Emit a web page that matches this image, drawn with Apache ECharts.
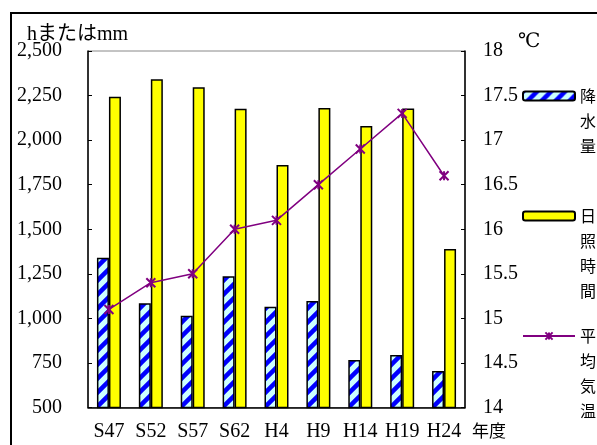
<!DOCTYPE html>
<html><head><meta charset="utf-8">
<script src="https://cdn.jsdelivr.net/npm/echarts@6/dist/echarts.min.js"></script>
<style>html,body{margin:0;padding:0;background:#fff}#c{width:597px;height:445px}</style>
</head><body><div id="c"></div>
<script>
const categories = ['S47','S52','S57','S62','H4','H9','H14','H19','H24'];
const precipitation = [1340, 1085, 1015, 1237, 1065, 1098, 766, 795, 705];
const sunshine = [2243, 2341, 2296, 2176, 1860, 2180, 2079, 2178, 1389];
const temperature = [15.1, 15.4, 15.5, 16.0, 16.1, 16.5, 16.9, 17.3, 16.6];
const seriesNames = ['降水量', '日照時間', '平均気温'];

const cv = document.createElement('canvas'); cv.width = 14; cv.height = 14;
const g = cv.getContext('2d');
g.fillStyle = '#ccffff'; g.fillRect(0, 0, 14, 14);
g.strokeStyle = '#0000ff'; g.lineWidth = 4.5;
g.beginPath();
g.moveTo(-7, 7); g.lineTo(7, -7);
g.moveTo(-1, 15); g.lineTo(15, -1);
g.moveTo(7, 21); g.lineTo(21, 7);
g.stroke();
const stripe = { image: cv, repeat: 'repeat' };

const serif = "'Liberation Serif', 'Noto Sans CJK JP', serif";
const cjk = "'Noto Sans CJK JP', sans-serif";
const fmt = v => String(v).replace(/\B(?=(\d{3})+(?!\d))/g, ',');

function legendFor(i, centerY) {
  const chars = seriesNames[i].split('');
  const n = chars.length;
  const lh = 25;
  const lines = [];
  for (let k = 0; k < n - 1; k++) lines.push('\u3000');
  const text = lines.concat(chars).join('\n');
  return {
    orient: 'vertical', left: 522, top: centerY - (2 * n - 1) * lh / 2,
    itemWidth: 52, itemHeight: 9, itemGap: 0,
    padding: 0,
    data: [seriesNames[i]],
    formatter: () => text,
    selectedMode: false,
    textStyle: { fontFamily: cjk, fontSize: 16, lineHeight: lh, color: '#000' }
  };
}

const chart = echarts.init(document.getElementById('c'), null, { renderer: 'canvas' });
chart.setOption({
  animation: false,
  backgroundColor: '#fff',
  graphic: [{ type: 'rect', shape: { x: 11, y: 13, width: 700, height: 500 }, style: { fill: 'none', stroke: '#000', lineWidth: 2 }, z: 100 }],
  grid: { left: 88, right: 132, top: 51, bottom: 37.5, show: true, borderColor: '#888', borderWidth: 1, containLabel: false },
  legend: [legendFor(0, 96), legendFor(1, 216), legendFor(2, 336)],
  xAxis: {
    type: 'category', data: categories,
    name: '年度', nameLocation: 'end', nameGap: 7,
    nameTextStyle: { fontFamily: cjk, fontSize: 17, color: '#000', verticalAlign: 'top', padding: [15, 0, 0, 0] },
    axisLine: { lineStyle: { color: '#000', width: 1.5 } },
    axisTick: { inside: true, length: 5, lineStyle: { color: '#000' } },
    axisLabel: { fontFamily: serif, fontSize: 20, color: '#000', margin: 14, interval: 0 }
  },
  yAxis: [{
    type: 'value', min: 500, max: 2500, interval: 250,
    name: 'hまたはmm', nameLocation: 'end', nameGap: 6, nameMoveOverlap: false,
    nameTextStyle: { fontFamily: serif, fontSize: 20, color: '#000', align: 'center', padding: [0, 21, 0, 0] },
    axisLine: { show: true, lineStyle: { color: '#000', width: 1.5 } },
    axisTick: { show: true, inside: true, length: 4, lineStyle: { color: '#000' } },
    axisLabel: { fontFamily: serif, fontSize: 20, color: '#000', margin: 26, align: 'right', formatter: fmt },
    splitLine: { show: false }
  }, {
    type: 'value', min: 14, max: 18, interval: 0.5,
    name: '℃', nameLocation: 'end', nameGap: -1,
    nameTextStyle: { fontFamily: "'DejaVu Serif', serif", fontSize: 20, color: '#000', align: 'left', padding: [0, 0, 0, 53] },
    axisLine: { show: true, lineStyle: { color: '#000', width: 1.5 } },
    axisTick: { show: true, inside: true, length: 4, lineStyle: { color: '#000' } },
    axisLabel: { fontFamily: serif, fontSize: 20, color: '#000', margin: 18, align: 'left' },
    splitLine: { show: false }
  }],
  series: [{
    name: seriesNames[0], type: 'bar', data: precipitation, barWidth: 12, barGap: '0%',
    itemStyle: { color: stripe, borderColor: '#000', borderWidth: 1.5 }
  }, {
    name: seriesNames[1], type: 'bar', data: sunshine, barWidth: 12, barGap: '0%',
    itemStyle: { color: '#ffff00', borderColor: '#000', borderWidth: 1.5 }
  }, {
    name: seriesNames[2], type: 'line', yAxisIndex: 1, data: temperature,
    symbol: 'path://M0,0L10,10M10,0L0,10M5,0L5,10', symbolSize: 9, showSymbol: true,
    lineStyle: { color: '#800080', width: 1.5 },
    itemStyle: { color: '#800080', borderColor: '#800080', borderWidth: 2 }, z: 5
  }]
});
</script></body></html>
